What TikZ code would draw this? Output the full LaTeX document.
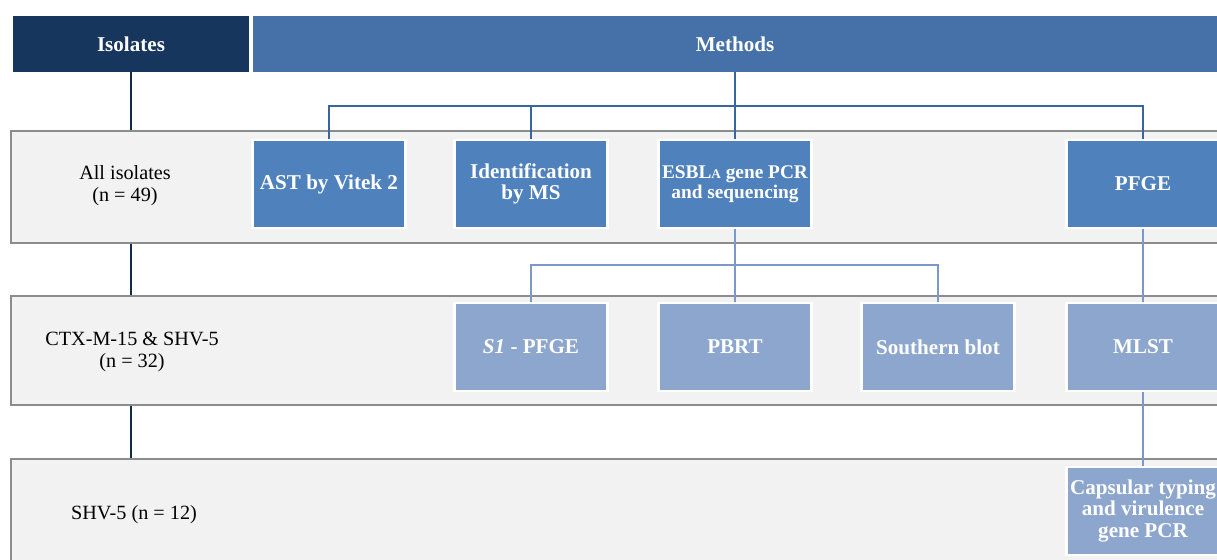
\documentclass[tikz,border=0pt]{standalone}
\usepackage{fontspec}
\setmainfont{Liberation Serif}
\usetikzlibrary{shadows}

\definecolor{isonavy}{HTML}{17365D}
\definecolor{methblue}{HTML}{4671A8}
\definecolor{boxblue}{HTML}{4F81BD}
\definecolor{boxpale}{HTML}{8CA6CE}
\definecolor{bandgray}{HTML}{F2F2F2}
\definecolor{bandline}{HTML}{8C8C8C}
\definecolor{topwire}{HTML}{3864A0}
\definecolor{midwire}{HTML}{7A98C8}

\begin{document}
\begin{tikzpicture}[x=0.02cm,y=-0.02cm,
    head/.style={rectangle, text=white, font=\fontsize{12}{13}\selectfont\bfseries,
      minimum height=1.12cm, inner sep=0pt},
    band/.style={rectangle, anchor=north west, draw=bandline, fill=bandgray,
      line width=1pt, minimum width=24.6cm, inner sep=0pt},
    rowlabel/.style={align=center, font=\fontsize{11.5}{12.5}\selectfont},
    mbox/.style={rectangle, draw=white, line width=1.5pt, fill=boxblue, text=white,
      align=center, minimum width=3.06cm, minimum height=1.76cm, inner sep=2pt,
      font=\fontsize{12}{12.3}\selectfont\bfseries,
      drop shadow={shadow xshift=0.6pt, shadow yshift=-0.6pt, opacity=0.35}},
    pbox/.style={mbox, fill=boxpale},
    isowire/.style={draw=isonavy!80!black, line width=0.9pt},
    topline/.style={draw=topwire, line width=1.1pt},
    midline/.style={draw=midwire, line width=1.1pt}]

    \useasboundingbox (0,0) rectangle (1217,560);
    \clip (0,0) rectangle (1217,560);

    % header bar
    \node[head, fill=isonavy, minimum width=4.72cm] (iso) at (131,44) {Isolates};
    \node[head, fill=methblue, minimum width=19.3cm] (meth) at (735,44) {Methods};

    % the three rows of isolates
    \node[band, minimum height=2.24cm] (band1) at (10,130) {};
    \node[band, minimum height=2.18cm] (band2) at (10,295) {};
    \node[band, minimum height=2.4cm]  (band3) at (10,458) {};

    \node[rowlabel] (lab1) at (125,186) {All isolates\\(n = 49)};
    \node[rowlabel] (lab2) at (132,352) {CTX-M-15 \& SHV-5\\(n = 32)};
    \node[rowlabel] (lab3) at (134,515) {SHV-5 (n = 12)};

    % methods on all isolates
    \node[mbox] (ast)   at (329,184)  {AST by Vitek 2};
    \node[mbox] (ident) at (531,184)  {Identification\\by MS};
    \node[mbox, font=\fontsize{11}{11.3}\selectfont\bfseries] (esbl) at (735,184)
      {ESBL{\fontsize{7.5}{8}\selectfont A} gene PCR\\and sequencing};
    \node[mbox] (pfge)  at (1143,184) {PFGE};

    % methods on CTX-M-15 & SHV-5
    \node[pbox] (s1)   at (531,347)  {\textit{S1} - PFGE};
    \node[pbox] (pbrt) at (735,347)  {PBRT};
    \node[pbox] (blot) at (938,347)  {Southern blot};
    \node[pbox] (mlst) at (1143,347) {MLST};

    % methods on SHV-5
    \node[pbox] (caps) at (1143,511) {Capsular typing\\and virulence\\gene PCR};

    % isolates line
    \draw[isowire] (iso.south) -- (iso.south |- band1.north);
    \draw[isowire] (iso.south |- band1.south) -- (iso.south |- band2.north);
    \draw[isowire] (iso.south |- band2.south) -- (iso.south |- band3.north);

    % methods tree
    \coordinate (mjoin) at (735,106);
    \draw[topline] (meth.south -| mjoin) -- (mjoin);
    \draw[topline] (ast.north) |- (mjoin) -| (pfge.north);
    \draw[topline] (ident.north) -- (ident.north |- mjoin);
    \draw[topline] (esbl.north) -- (esbl.north |- mjoin);

    \coordinate (ejoin) at (735,265);
    \draw[midline] (esbl.south) -- (pbrt.north);
    \draw[midline] (s1.north) |- (ejoin) -| (blot.north);
    \draw[midline] (pfge.south) -- (mlst.north);
    \draw[midline] (mlst.south) -- (caps.north);
\end{tikzpicture}
\end{document}
